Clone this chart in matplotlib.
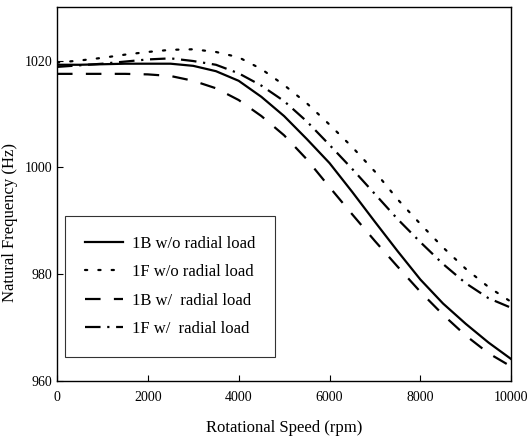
import matplotlib
matplotlib.use('Agg')
import matplotlib.pyplot as plt

# valores
rpm = [0, 500, 1000, 1500, 2000, 2500, 3000, 3500, 4000, 4500, 5000,
       5500, 6000, 6500, 7000, 7500, 8000, 8500, 9000, 9500, 10000]

f_1B_sin = [1019.2, 1019.2, 1019.3, 1019.4, 1019.4, 1019.4, 1019.0, 1018.0, 1016.2, 1013.2, 1009.6,
            1005.3, 1000.8, 995.4, 989.8, 984.3, 979.0, 974.5, 970.7, 967.2, 964.1]
f_1F_sin = [1019.6, 1020.0, 1020.5, 1021.1, 1021.6, 1022.0, 1022.1, 1021.6, 1020.6, 1018.4, 1015.4,
            1012.0, 1008.0, 1003.8, 999.2, 994.0, 989.4, 985.0, 981.0, 977.6, 974.8]
f_1B_con = [1017.5, 1017.5, 1017.5, 1017.5, 1017.4, 1017.1, 1016.2, 1014.8, 1012.6, 1009.6, 1006.0,
            1001.5, 996.3, 991.2, 986.2, 981.4, 976.7, 972.4, 968.5, 965.2, 962.7]
f_1F_con = [1018.8, 1019.1, 1019.4, 1019.8, 1020.2, 1020.4, 1019.9, 1019.2, 1017.6, 1015.3, 1012.4,
            1008.6, 1004.2, 999.7, 995.0, 990.3, 986.0, 981.9, 978.3, 975.5, 973.7]

etiquetas = ['1B w/o radial load', '1F w/o radial load', '1B w/  radial load', '1F w/  radial load']

plt.rcParams['font.family'] = ['Liberation Serif', 'DejaVu Serif']

fig = plt.figure(figsize=(5.3, 4.43), dpi=100)
ax = fig.add_axes([0.1075, 0.14, 0.857, 0.844])

ax.plot(rpm, f_1B_sin, '-', color='k', lw=1.6, label=etiquetas[0])
ax.plot(rpm, f_1F_sin, color='k', lw=1.6, linestyle=(0, (1, 5)), dash_capstyle='round', label=etiquetas[1])
ax.plot(rpm, f_1B_con, color='k', lw=1.6, linestyle=(0, (7, 6)), label=etiquetas[2])
ax.plot(rpm, f_1F_con, color='k', lw=1.6, linestyle=(0, (7, 3, 1, 3)), label=etiquetas[3])

ax.set_xlim(0, 10000)
ax.set_ylim(960, 1030)
ax.set_xticks([0, 2000, 4000, 6000, 8000, 10000])
ax.set_yticks([960, 980, 1000, 1020])
ax.tick_params(direction='in', length=4, labelsize=10, top=False, right=False)
ax.tick_params(axis='x', pad=7)
for s in ax.spines.values():
    s.set_linewidth(1.0)

ax.set_xlabel('Rotational Speed (rpm)', fontsize=12)
ax.xaxis.set_label_coords(0.5, -0.105)
ax.set_ylabel('Natural Frequency (Hz)', fontsize=12)
ax.yaxis.set_label_coords(-0.085, 0.425)

leg = ax.legend(loc='lower left', bbox_to_anchor=(0.0176, 0.064), borderaxespad=0,
                fontsize=12, frameon=True, fancybox=False, edgecolor='k',
                handlelength=2.3, borderpad=1.2, labelspacing=0.75, handletextpad=0.5)
leg.get_frame().set_linewidth(0.8)

fig.savefig('out.png', dpi=100)
